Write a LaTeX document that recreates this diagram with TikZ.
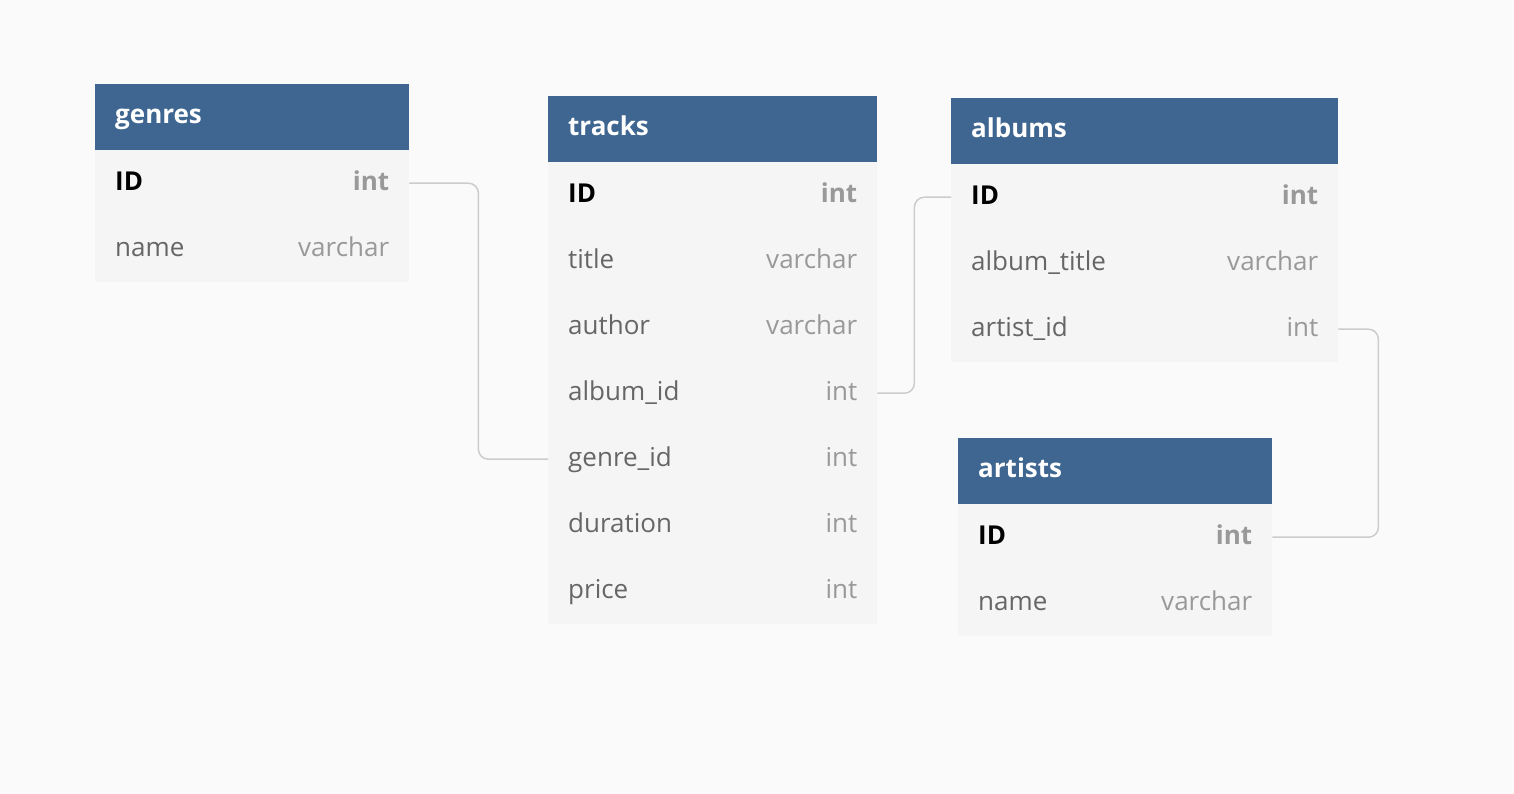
\documentclass[tikz,border=0pt]{standalone}
\usepackage{fontspec}
\setmainfont{Open Sans}
\definecolor{bg}{HTML}{FAFAFA}
\definecolor{hdrblue}{HTML}{3E6690}
\definecolor{rowbg}{HTML}{F5F5F5}
\definecolor{fieldtxt}{HTML}{666666}
\definecolor{typetxt}{HTML}{999999}
\definecolor{linkc}{HTML}{CCCCCC}
\tikzset{
  hdr/.style={fill=hdrblue, draw=none, minimum height=66pt, inner sep=0pt, anchor=north west},
  hdrtxt/.style={text=white, font=\fontsize{26}{30}\selectfont\bfseries, anchor=west, inner sep=0pt},
  rowbox/.style={fill=rowbg, draw=none, minimum height=66pt, inner sep=0pt, anchor=north west},
  fname/.style={text=fieldtxt, font=\fontsize{26}{30}\selectfont, anchor=west, inner sep=0pt},
  ftype/.style={text=typetxt, font=\fontsize{26}{30}\selectfont, anchor=east, inner sep=0pt},
  pkname/.style={text=black, font=\fontsize{26}{30}\selectfont\bfseries, anchor=west, inner sep=0pt},
  pktype/.style={text=typetxt, font=\fontsize{26}{30}\selectfont\bfseries, anchor=east, inner sep=0pt},
  link/.style={draw=linkc, line width=1.5pt, rounded corners=10pt},
}
% \erow{node name}{x}{y}{width}{field}{type}{name style}{type style}
\newcommand{\erow}[8]{%
  \node[rowbox, minimum width=#4] (#1) at (#2,#3) {};
  \node[#7] at ([xshift=20pt,yshift=-1pt]#1.west) {\strut #5};
  \node[#8] at ([xshift=-20pt,yshift=-1pt]#1.east) {\strut #6};
}
\newcommand{\ehdr}[5]{%
  \node[hdr, minimum width=#4] (#1) at (#2,#3) {};
  \node[hdrtxt] at ([xshift=20pt]#1.west) {\strut #5};
}
\begin{document}
\begin{tikzpicture}[x=1pt,y=-1pt]
\fill[bg] (0,0) rectangle (1514,794);
\useasboundingbox (0,0) rectangle (1514,794);

% genres
\ehdr{genres}{95}{84}{314pt}{genres}
\erow{genres-ID}{95}{150}{314pt}{ID}{int}{pkname}{pktype}
\erow{genres-name}{95}{216}{314pt}{name}{varchar}{fname}{ftype}

% tracks
\ehdr{tracks}{548}{96}{329pt}{tracks}
\erow{tracks-ID}{548}{162}{329pt}{ID}{int}{pkname}{pktype}
\erow{tracks-title}{548}{228}{329pt}{title}{varchar}{fname}{ftype}
\erow{tracks-author}{548}{294}{329pt}{author}{varchar}{fname}{ftype}
\erow{tracks-album}{548}{360}{329pt}{album\_id}{int}{fname}{ftype}
\erow{tracks-genre}{548}{426}{329pt}{genre\_id}{int}{fname}{ftype}
\erow{tracks-duration}{548}{492}{329pt}{duration}{int}{fname}{ftype}
\erow{tracks-price}{548}{558}{329pt}{price}{int}{fname}{ftype}

% albums
\ehdr{albums}{951}{98}{387pt}{albums}
\erow{albums-ID}{951}{164}{387pt}{ID}{int}{pkname}{pktype}
\erow{albums-title}{951}{230}{387pt}{album\_title}{varchar}{fname}{ftype}
\erow{albums-artist}{951}{296}{387pt}{artist\_id}{int}{fname}{ftype}

% artists
\ehdr{artists}{958}{438}{314pt}{artists}
\erow{artists-ID}{958}{504}{314pt}{ID}{int}{pkname}{pktype}
\erow{artists-name}{958}{570}{314pt}{name}{varchar}{fname}{ftype}

% connectors
\draw[link] (genres-ID.east) -- ++(69,0) |- (tracks-genre.west);
\draw[link] (tracks-album.east) -- ++(37,0) |- (albums-ID.west);
\draw[link] (albums-artist.east) -- ++(40,0) |- (artists-ID.east);
\end{tikzpicture}
\end{document}
